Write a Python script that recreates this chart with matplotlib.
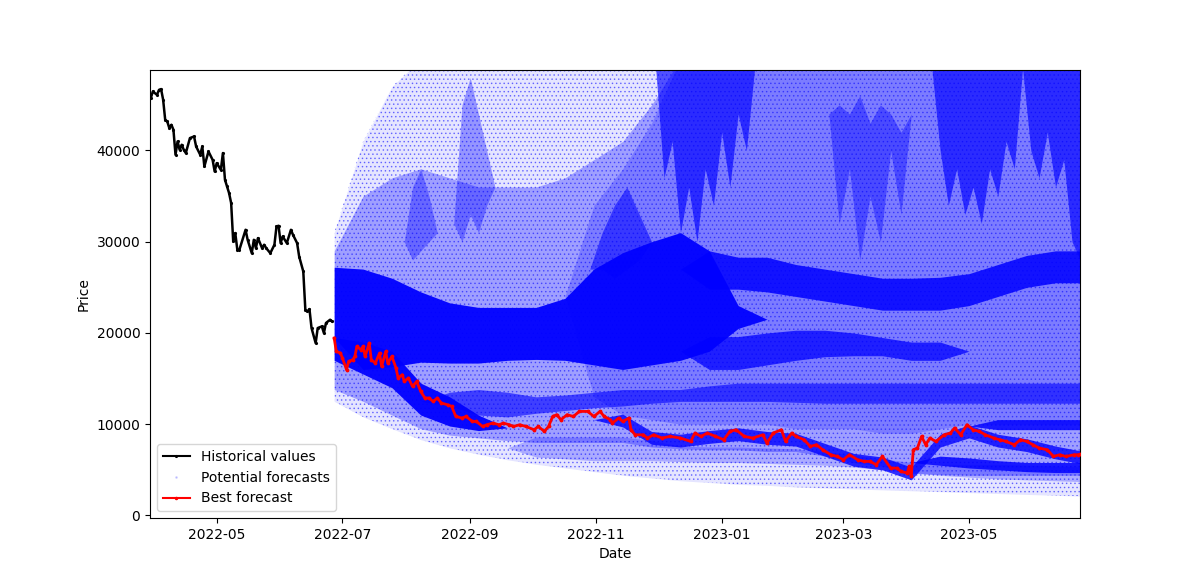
import numpy as np
import pandas as pd
import matplotlib
matplotlib.use("Agg")
import matplotlib.pyplot as plt
from matplotlib.lines import Line2D

# ---------------- data ----------------
HIST_ANCHOR = "2022-05-01"
hist_day = [-32, -31, -29, -28, -27, -26, -25, -24, -23, -22, -21, -20, -19, -18, -17,
            -16, -15, -13, -11, -10, -8, -7, -6, -4, -2, -1, 0, 2, 3, 4, 5, 6, 7, 8,
            9, 10, 11, 14, 15, 17, 18, 19, 20, 22, 23, 24, 26, 28, 29, 30, 31, 32, 34,
            36, 37, 39, 40, 42, 43, 44, 45, 46, 48, 49, 51, 52, 53, 55, 56]
hist_price = [45740, 46470, 46100, 46650, 46730, 45560, 43360, 43180, 42450, 42820,
              42270, 39530, 40990, 40080, 40630, 40080, 39720, 41360, 41540, 40440,
              39530, 40440, 38250, 39890, 38980, 37700, 38620, 37880, 39720, 36790,
              36060, 35330, 34240, 30030, 30950, 29120, 29120, 31310, 30210, 28750,
              30210, 29300, 30400, 29300, 29670, 29300, 28750, 29670, 31670, 31750,
              29850, 30580, 29850, 31310, 30760, 29850, 28380, 26740, 22540, 22360,
              22620, 20540, 18890, 20540, 20720, 19990, 21090, 21450, 21260]

FORECAST_ANCHOR = "2022-06-27"
best_day = [0, 1, 3, 4, 6, 7, 9, 10, 11, 13, 14, 15, 17, 18, 20, 22, 23, 25, 26, 28,
            30, 31, 33, 34, 36, 38, 40, 42, 44, 46, 48, 50, 52, 55, 57, 59, 62, 64, 67,
            69, 72, 74, 77, 80, 82, 85, 87, 90, 93, 97, 99, 102, 104, 106, 108, 110,
            113, 116, 119, 123, 126, 129, 131, 134, 135, 138, 140, 143, 144, 146, 150,
            152, 155, 159, 163, 168, 173, 175, 178, 181, 185, 189, 192, 195, 199, 203,
            208, 210, 213, 217, 219, 222, 224, 228, 231, 234, 237, 241, 244, 247, 250,
            254, 257, 260, 263, 266, 270, 273, 275, 278, 279, 280, 281, 283, 285, 287,
            289, 292, 296, 299, 301, 304, 307, 310, 313, 316, 320, 323, 326, 330, 333,
            336, 339, 342, 346, 349, 352, 355, 359, 361, 362]
best_price = [19440, 17970, 17800, 17250, 15970, 16880, 17060, 17420, 18520, 18160,
              18520, 17420, 18890, 17060, 16700, 17800, 16330, 17970, 16700, 17420,
              16150, 15060, 15420, 14690, 15060, 14140, 14690, 13590, 12870, 12870,
              12490, 12870, 12320, 12130, 11950, 10850, 10670, 10850, 10300, 10300,
              9750, 9940, 10120, 9940, 10120, 9940, 9750, 9940, 9750, 9390, 9750,
              9210, 9750, 10850, 11040, 10490, 11040, 10850, 11400, 11400, 10850,
              11400, 10850, 10490, 10120, 10670, 10300, 10670, 9390, 8840, 8840,
              8480, 8840, 8480, 8660, 8480, 8110, 9030, 8660, 9030, 8660, 8300,
              9210, 9390, 8660, 8480, 8840, 7930, 9030, 9390, 8110, 9030, 8660,
              8300, 7560, 7750, 7200, 6650, 6470, 6100, 6650, 6100, 5920, 5920,
              5560, 6470, 5190, 5190, 4820, 4650, 5370, 4270, 7200, 7390, 8660,
              7750, 8480, 8110, 8840, 9030, 9580, 8840, 9940, 9390, 9210, 8840,
              8480, 8300, 8110, 7750, 8300, 8110, 7750, 7390, 7200, 6470, 6650,
              6470, 6650, 6650, 6700]

# forecast cloud, read as density bands at two-week knots (thousands)
knot_day = [0, 14, 28, 42, 56, 70, 84, 98, 112, 126, 140, 154, 168, 182, 196, 210,
            224, 238, 252, 266, 280, 294, 308, 322, 336, 350, 364]
PRICE_UNIT = 1000

outer_lo = [12.5, 10.8, 9.5, 8.3, 7.4, 6.7, 6.1, 5.6, 5.2, 4.8, 4.4, 4.1, 3.8, 3.6,
            3.4, 3.3, 3.1, 3.0, 2.9, 2.8, 2.7, 2.6, 2.5, 2.4, 2.3, 2.2, 2.1]
outer_hi = [31, 41, 47, 50, 50, 50, 50, 50, 50, 50, 50, 50, 50, 50, 50, 50, 50, 50,
            50, 50, 50, 50, 50, 50, 50, 50, 50]
main_lo = [13.8, 12.5, 11, 9.5, 8.8, 8.5, 8.2, 8.0, 8.0, 8.0, 8.0, 7.5, 7.3, 7.2, 7.2,
           7.0, 7.0, 6.5, 5.8, 5.4, 4.6, 4.5, 4.4, 4.4, 4.4, 4.4, 4.4]
main_hi = [29, 35, 37, 38, 37, 36, 36, 36, 37, 39, 41, 45, 50, 50, 50, 50, 50, 50, 50,
           50, 50, 50, 50, 50, 50, 50, 50]
late_start = 8
late_lo = [24, 13, 11, 10.5, 10, 10, 10, 10, 9.5, 9.5, 9.5, 9, 9, 9.5, 10, 10, 10, 10, 10]
late_hi = [24, 34, 38, 43, 50, 50, 50, 50, 50, 50, 50, 50, 50, 50, 50, 50, 50, 50, 50]

faint_start = 6
faint_lo = [7.4, 6.4, 6.2, 6, 6, 6, 5.9, 5.8, 5.8, 5.7, 5.6, 5.5, 5.3, 5.0, 4.7, 4.4,
            4.2, 4.0, 3.9, 3.8, 3.7]
faint_hi = [7.4, 8.6, 8.6, 8.6, 8.6, 8.2, 7.6, 7.5, 7.5, 7.4, 7.3, 7.0, 6.6, 6.2, 5.8,
            5.6, 5.6, 5.6, 5.5, 5.4, 5.3]

# dense bands
core_start = 0
core_lo = [19.5, 16.0, 16.3, 16.8, 16.7, 16.7, 17, 17.1, 17, 16.5, 16, 16.5, 17, 18, 20.5, 21.5]
core_hi = [27.2, 27.0, 26.0, 24.5, 23.3, 22.8, 22.8, 22.8, 23.8, 27, 28.8, 30, 31, 29, 23, 21.5]
band27_start = 12
band27_lo = [27, 24.8, 24.8, 24.5, 24, 23.5, 23, 22.5, 22.5, 22.5, 23, 24, 25, 25.5, 25.5]
band27_hi = [27, 29, 28.3, 28.3, 27.5, 27, 26.5, 26, 26, 26.1, 26.5, 27.5, 28.5, 29, 29]
band18_start = 12
band18_lo = [18, 16, 16, 16.5, 17, 17.4, 17.5, 17.5, 17, 17, 18]
band18_hi = [18, 19.6, 19.6, 20, 20.3, 20.3, 20, 19.5, 19, 19, 18]
underbest_start = 0
underbest_lo = [17, 15.5, 14, 11, 9.8, 9.3, 9.6]
underbest_hi = [19.5, 19, 18, 14.5, 13, 11, 9.6]
band12_start = 3
band12_lo = [12.5, 12, 11, 10.8, 11.2, 11.5, 11.8, 12, 12.3, 12.5, 12.5, 12.5, 12.5,
             12.4, 12.3, 12.3, 12.3, 12.3, 12.3, 12.3, 12.3, 12.3, 12.3, 12.3]
band12_hi = [12.5, 13.5, 13.8, 13.5, 13, 13.2, 13.5, 13.8, 13.8, 13.8, 14.2, 14.5, 14.5,
             14.5, 14.5, 14.5, 14.5, 14.5, 14.5, 14.5, 14.5, 14.5, 14.5, 14.5]
nearbest_start = 9
nearbest_lo = [10.5, 9.7, 7.8, 7.5, 7.9, 8.2, 7.8, 7.6, 6.5, 5.4, 5.0, 3.9, 7.5, 8.5,
               7.5, 7.0, 6.2, 5.6]
nearbest_hi = [10.5, 11.1, 9.2, 8.9, 9.3, 9.6, 9.2, 9.0, 7.9, 6.8, 6.4, 5.3, 8.9, 9.9,
               8.9, 8.4, 7.6, 7.0]
band10_start = 22
band10_lo = [9.8, 9.4, 9.4, 9.4, 9.4]
band10_hi = [9.8, 10.5, 10.5, 10.5, 10.5]
band5_start = 20
band5_lo = [5.8, 5.5, 5.2, 5, 4.8, 4.7, 4.7]
band5_hi = [5.8, 6.5, 6.3, 6, 5.8, 5.8, 5.8]

# high vertical streaks reaching the top (days after forecast start, lower tip)
streak_dec_day = [156, 160, 164, 168, 172, 176, 180, 184, 188, 192, 196, 200, 204]
streak_dec_lo = [49, 37, 41, 31, 36, 30, 38, 34, 42, 36, 44, 40, 49]
streak_apr_day = [290, 294, 298, 302, 306, 310, 314, 318, 322, 326, 330, 334]
streak_apr_lo = [49, 40, 34, 38, 33, 36, 32, 38, 35, 41, 38, 49]
streak_jun_day = [334, 338, 342, 346, 350, 354, 358, 362]
streak_jun_lo = [49, 40, 37, 42, 36, 39, 30, 28]
# mid-height streaks (days, low edge, high edge)
streak_mar_day = [240, 245, 250, 255, 260, 265, 270, 275, 280]
streak_mar_lo = [44, 32, 38, 28, 35, 30, 40, 33, 44]
streak_mar_hi = [44, 45, 44, 46, 43, 45, 44, 42, 44]
streak_aug_day = [58, 62, 66, 70, 74, 78]
streak_aug_lo = [32, 30, 33, 31, 34, 36]
streak_aug_hi = [32, 45, 48, 44, 40, 36]
streak_jul_day = [34, 38, 42, 46, 50]
streak_jul_lo = [30, 28, 29, 30, 31]
streak_jul_hi = [30, 36, 38, 35, 31]
streak_nov_day = [124, 130, 136, 142, 148, 154]
streak_nov_lo = [27, 27, 26, 27, 28, 30]
streak_nov_hi = [27, 31, 34, 36, 33, 30]
STREAK_TOP = 50

# ---------------- plot ----------------
fig, ax = plt.subplots(figsize=(12, 5.82), dpi=100)
plt.rcParams["hatch.linewidth"] = 0.6

anchor = pd.Timestamp(FORECAST_ANCHOR)
hist_dates = pd.Timestamp(HIST_ANCHOR) + pd.to_timedelta(hist_day, unit="D")
best_dates = anchor + pd.to_timedelta(best_day, unit="D")
knot_dates = anchor + pd.to_timedelta(knot_day, unit="D")


def fill(d, lo, hi, alpha, hatch=None):
    lo = np.array(lo, dtype=float) * PRICE_UNIT
    hi = np.array(hi, dtype=float) * PRICE_UNIT
    if hatch:
        ax.fill_between(d, lo, hi, facecolor="none", edgecolor=(0, 0, 1, alpha),
                        hatch=hatch, linewidth=0, zorder=1)
    else:
        ax.fill_between(d, lo, hi, color="blue", alpha=alpha, linewidth=0, zorder=1)


def band(start, lo, hi, alpha, hatch=None):
    fill(knot_dates[start:start + len(lo)], lo, hi, alpha, hatch)


def streak(days, lo, hi, alpha):
    fill(anchor + pd.to_timedelta(days, unit="D"), lo, hi, alpha)


band(0, outer_lo, outer_hi, 0.10)
band(0, outer_lo, outer_hi, 0.45, hatch="....")
band(0, main_lo, main_hi, 0.30)
band(late_start, late_lo, late_hi, 0.22)
band(faint_start, faint_lo, faint_hi, 0.25)
streak(streak_jul_day, streak_jul_lo, streak_jul_hi, 0.35)
streak(streak_aug_day, streak_aug_lo, streak_aug_hi, 0.35)
streak(streak_nov_day, streak_nov_lo, streak_nov_hi, 0.55)
streak(streak_mar_day, streak_mar_lo, streak_mar_hi, 0.40)
streak(streak_dec_day, streak_dec_lo, [STREAK_TOP] * len(streak_dec_day), 0.65)
streak(streak_apr_day, streak_apr_lo, [STREAK_TOP] * len(streak_apr_day), 0.65)
streak(streak_jun_day, streak_jun_lo, [STREAK_TOP] * len(streak_jun_day), 0.65)
band(band12_start, band12_lo, band12_hi, 0.60)
band(band18_start, band18_lo, band18_hi, 0.75)
band(band27_start, band27_lo, band27_hi, 0.85)
band(core_start, core_lo, core_hi, 0.95)
band(underbest_start, underbest_lo, underbest_hi, 0.95)
band(nearbest_start, nearbest_lo, nearbest_hi, 0.80)
band(band10_start, band10_lo, band10_hi, 0.85)
band(band5_start, band5_lo, band5_hi, 0.85)

ax.plot(hist_dates, hist_price, color="black", lw=1.8, marker=".", ms=2.5, zorder=4)
ax.plot(best_dates, best_price, color="red", lw=2.0, marker=".", ms=3.5, zorder=5)

handles = [
    Line2D([], [], color="black", lw=1.5, marker=".", ms=2.5),
    Line2D([], [], color="blue", alpha=0.15, lw=0, marker=".", ms=2),
    Line2D([], [], color="red", lw=1.5, marker=".", ms=3),
]
ax.legend(handles, ["Historical values", "Potential forecasts", "Best forecast"],
          loc="lower left")

ax.set_xlim(pd.Timestamp("2022-03-29 15:00"), pd.Timestamp("2023-06-23 21:00"))
ax.set_ylim(-280, 48840)
ax.set_xlabel("Date")
ax.set_ylabel("Price")

fig.savefig("out.png", dpi=100)
